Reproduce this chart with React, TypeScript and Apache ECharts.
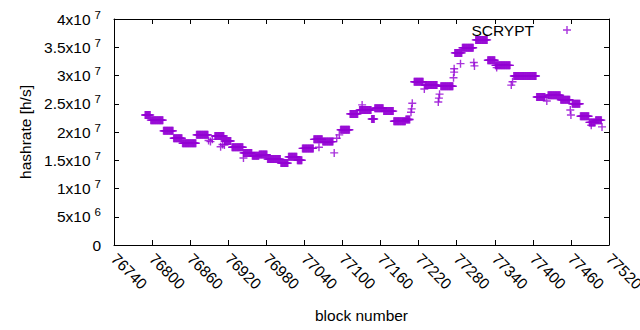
import React, { useEffect, useRef } from 'react';
import * as echarts from 'echarts';

// Runs of consecutive blocks sharing the same hashrate (value in units of 1e7 h/s)
const runStart = [76789, 76798, 76818, 76834, 76848, 76870, 76899, 76914, 76926, 76944, 76958, 76969, 76982, 77003, 77015, 77029, 77037, 77055, 77069, 77097, 77112, 77127, 77146, 77151, 77165, 77181, 77200, 77213, 77230, 77255, 77277, 77289, 77310, 77329, 77341, 77370, 77406, 77424, 77444, 77462, 77475, 77489, 77499];
const runEnd = [76797, 76817, 76833, 76847, 76869, 76888, 76913, 76924, 76943, 76957, 76968, 76981, 77002, 77014, 77028, 77036, 77054, 77068, 77085, 77111, 77124, 77145, 77150, 77164, 77180, 77199, 77206, 77227, 77249, 77274, 77288, 77306, 77328, 77340, 77364, 77405, 77419, 77443, 77458, 77474, 77488, 77498, 77508];
const runValue = [2.30, 2.21, 2.02, 1.89, 1.80, 1.95, 1.93, 1.84, 1.73, 1.63, 1.58, 1.60, 1.52, 1.45, 1.56, 1.50, 1.71, 1.87, 1.83, 2.04, 2.32, 2.39, 2.23, 2.42, 2.37, 2.19, 2.22, 2.89, 2.83, 2.81, 3.40, 3.49, 3.63, 3.27, 3.18, 2.99, 2.62, 2.65, 2.57, 2.50, 2.28, 2.17, 2.21];

// Isolated points (value in units of 1e7 h/s)
const pointBlock = [76889, 76892, 76895, 76908, 76911, 76914, 76944, 77063, 77087, 77091, 77095, 77131, 77208, 77209, 77210, 77229, 77251, 77252, 77253, 77275, 77276, 77276, 77286, 77307, 77308, 77343, 77366, 77368, 77422, 77459, 77460, 77492, 77509];
const pointValue = [1.85, 1.83, 1.87, 1.74, 1.78, 1.77, 1.54, 1.73, 1.63, 1.89, 1.95, 2.48, 2.35, 2.41, 2.51, 2.76, 2.53, 2.60, 2.67, 2.96, 3.06, 3.12, 3.21, 3.23, 3.17, 3.14, 2.83, 2.89, 2.55, 2.39, 2.30, 2.12, 2.09];

const seriesName = 'SCRYPT';
const xMin = 76740;
const xMax = 77520;
const xStep = 60;
const yMin = 0;
const yMax = 4e7;
const yStep = 5e6;

const FONT = 'Liberation Sans';
const COLOR = '#9400D3';
const CROSS = 'path://M3.3,0h1.4v3.3h3.3v1.4h-3.3v3.3h-1.4v-3.3h-3.3v-1.4h3.3z';

function yLabel(v: number): string {
  if (v === 0) return '{a|0}';
  const exp = Math.floor(Math.log10(v) + 1e-9);
  const mant = +(v / Math.pow(10, exp)).toFixed(2);
  return `{a|${mant}x10}{s|${exp}}`;
}

export default function App() {
  const ref = useRef<HTMLDivElement>(null);
  useEffect(() => {
    document.body.style.margin = '0';
    const chart = echarts.init(ref.current!, undefined, { renderer: 'svg' });
    const data: number[][] = [];
    for (let i = 0; i < runStart.length; i++) {
      for (let b = runStart[i]; b <= runEnd[i]; b++) data.push([b, runValue[i] * 1e7]);
    }
    for (let i = 0; i < pointBlock.length; i++) data.push([pointBlock[i], pointValue[i] * 1e7]);

    const axisLine = { show: true, onZero: false, lineStyle: { color: '#000', width: 1 } };
    const tick = { show: true, inside: true, length: 5, lineStyle: { color: '#000', width: 1 } };

    chart.setOption({
      animation: false,
      backgroundColor: '#fff',
      textStyle: { fontFamily: FONT },
      grid: { left: 114, right: 31, top: 19, bottom: 85, outerBoundsMode: 'none', containLabel: false },
      legend: {
        data: [seriesName],
        right: 69,
        top: 22,
        padding: 0,
        align: 'right',
        icon: CROSS,
        itemWidth: 8,
        itemHeight: 8,
        textStyle: { fontFamily: FONT, fontSize: 15.5, color: '#000', padding: [0, 24, 0, 0] },
      },
      xAxis: [
        {
          type: 'value', min: xMin, max: xMax, interval: xStep, position: 'bottom',
          axisLine, axisTick: tick, splitLine: { show: false },
          axisLabel: { rotate: -45, margin: 11, fontFamily: FONT, fontSize: 15.5, color: '#000', showMinLabel: true, showMaxLabel: true, formatter: (v: number) => String(v) },
          name: 'block number', nameLocation: 'middle', nameGap: 62,
          nameTextStyle: { fontFamily: FONT, fontSize: 15.5, color: '#000' },
        },
        {
          type: 'value', min: xMin, max: xMax, interval: xStep, position: 'top',
          axisLine, axisTick: tick, splitLine: { show: false }, axisLabel: { show: false },
        },
      ],
      yAxis: [
        {
          type: 'value', min: yMin, max: yMax, interval: yStep, position: 'left',
          axisLine, axisTick: tick, splitLine: { show: false },
          axisLabel: {
            margin: 13, color: '#000', formatter: yLabel,
            rich: {
              a: { fontFamily: FONT, fontSize: 15.5, color: '#000', lineHeight: 18 },
              s: { fontFamily: FONT, fontSize: 11.5, color: '#000', padding: [0, 0, 9, 4] },
            },
          },
          name: 'hashrate [h/s]', nameLocation: 'middle', nameGap: 80,
          nameTextStyle: { fontFamily: FONT, fontSize: 15.5, color: '#000' },
        },
        {
          type: 'value', min: yMin, max: yMax, interval: yStep, position: 'right',
          axisLine, axisTick: tick, splitLine: { show: false }, axisLabel: { show: false },
        },
      ],
      series: [
        {
          name: seriesName,
          type: 'scatter',
          symbol: CROSS,
          symbolSize: 8,
          itemStyle: { color: COLOR },
          data,
        },
      ],
    });
    return () => chart.dispose();
  }, []);
  return <div ref={ref} style={{ width: 640, height: 330 }} />;
}
